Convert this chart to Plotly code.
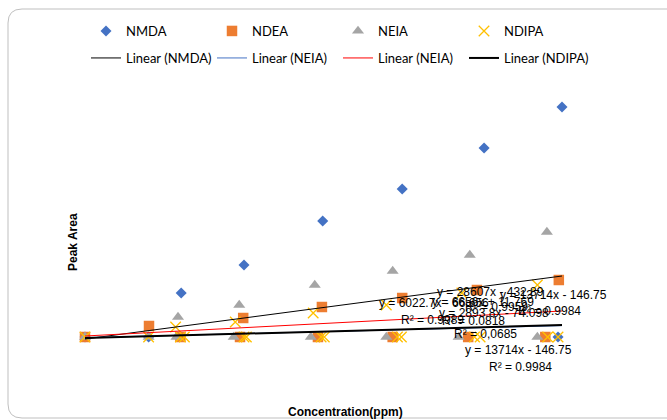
import plotly.graph_objects as go

# ---------------- data ----------------
nmda_x = [0, 0.80, 1.21, 2.00, 2.99, 3.99, 5.02, 6.00, 5.95]
nmda_y = [0, 0, 33000, 54000, 87000, 111000, 141750, 172500, 0]

ndea_x = [0, 0.805, 1.99, 2.98, 3.99, 4.93, 5.96, 1.20, 1.95, 2.93, 3.87, 4.82, 5.79]
ndea_y = [0, 8250, 14250, 22500, 29250, 35250, 42750, 0, 0, 0, 0, 0, 0]

neia_x = [0, 0.80, 1.17, 1.94, 2.89, 3.87, 4.84, 5.81, 1.15, 1.87, 2.84, 3.79, 4.70, 5.69]
neia_y = [0, 0, 15000, 24000, 39000, 49500, 61500, 78750, 0, 0, 0, 0, 0, 0]

ndipa_x = [0, 0.80, 1.14, 1.89, 2.87, 3.79, 4.74, 5.69,
           1.20, 2.00, 2.97, 3.93, 4.90, 5.82, 1.25, 2.03, 3.01, 3.98, 4.97, 5.95]
ndipa_y = [0, 0, 7500, 11250, 18000, 24000, 33000, 39000,
           0, 0, 0, 0, 0, 0, 0, 0, 0, 0, 0, 0]

# trendline end points (x from 0 to 6 ppm)
trend_x = [0, 6.0]
trend_nmda = [-1500, 45750]
trend_neia_blue = [-500, 8500]
trend_neia_red = [750, 19500]
trend_ndipa = [-750, 9000]

series_names = ["NMDA", "NDEA", "NEIA", "NDIPA"]
trend_names = ["Linear (NMDA)", "Linear (NEIA)", "Linear (NEIA)", "Linear (NDIPA)"]

# trendline label texts
eq_labels = [
    "y = 28607x - 432.89", "y = 13714x - 146.75", "y = 6022.7x - 66.656",
    "y = 6656x + 11.769", "R² = 0.9959", "y = 2893.8x - 74.098",
    "R² = 0.9984", "R² = 0.9989", "R² = 0.0818", "R² = 0,0685",
    "y = 13714x - 146.75", "R² = 0.9984",
]

# ---------------- layout geometry ----------------
W, H = 667, 420
ML, MR, MT, MB = 75, 0, 90, 75
PW, PH = W - ML - MR, H - MT - MB


def px(xp):
    return (xp - ML) / PW


def py(yp):
    return (H - MB - yp) / PH


fig = go.Figure()

fig.add_trace(go.Scatter(x=nmda_x, y=nmda_y, mode="markers", name=series_names[0],
                         marker=dict(symbol="diamond", size=8.5, color="#4472C4"),
                         legend="legend"))
fig.add_trace(go.Scatter(x=ndea_x, y=ndea_y, mode="markers", name=series_names[1],
                         marker=dict(symbol="square", size=10.5, color="#ED7D31"),
                         legend="legend"))
fig.add_trace(go.Scatter(x=neia_x, y=neia_y, mode="markers", name=series_names[2],
                         marker=dict(symbol="triangle-up", size=10.5, color="#A5A5A5"),
                         legend="legend"))
fig.add_trace(go.Scatter(x=ndipa_x, y=ndipa_y, mode="markers", name=series_names[3],
                         marker=dict(symbol="x-thin-open", size=10.5, color="#FFC000",
                                     line=dict(width=1.3, color="#FFC000")),
                         legend="legend"))

fig.add_trace(go.Scatter(x=trend_x, y=trend_nmda, mode="lines", name=trend_names[0],
                         line=dict(color="#000000", width=1), legend="legend2"))
fig.add_trace(go.Scatter(x=trend_x, y=trend_neia_blue, mode="lines", name=trend_names[1],
                         line=dict(color="#4472C4", width=1), legend="legend2"))
fig.add_trace(go.Scatter(x=trend_x, y=trend_neia_red, mode="lines", name=trend_names[2],
                         line=dict(color="#FF0000", width=1), legend="legend2"))
fig.add_trace(go.Scatter(x=trend_x, y=trend_ndipa, mode="lines", name=trend_names[3],
                         line=dict(color="#000000", width=2), legend="legend2"))

# label positions (pixel left, pixel center y)
label_pos = [
    (435, 292), (498, 295), (377, 303), (430, 302), (463, 307), (437, 313),
    (516, 311), (399, 320), (440, 321), (452, 334), (463, 350), (487, 367),
]
annotations = []
for txt, (lx, ly) in zip(eq_labels, label_pos):
    annotations.append(dict(text=txt, x=px(lx), y=py(ly), xref="paper", yref="paper",
                            xanchor="left", yanchor="middle", showarrow=False,
                            font=dict(family="Liberation Sans, Arial", size=12, color="#000")))

annotations.append(dict(text="<b>Peak Area</b>", x=px(73), y=py(242), xref="paper",
                        yref="paper", textangle=-90, showarrow=False,
                        xanchor="center", yanchor="middle",
                        font=dict(family="Liberation Sans, Arial", size=12, color="#000")))
annotations.append(dict(text="<b>Concentration(ppm)</b>", x=px(345), y=py(412), xref="paper",
                        yref="paper", showarrow=False, xanchor="center", yanchor="middle",
                        font=dict(family="Liberation Sans, Arial", size=12, color="#000")))

# chart-area rounded border (partially outside the window)
x0, y0, x1, y1, r = 8, 9, 680, 418, 14
path = (f"M {px(x0)} {py(y0 + r)} Q {px(x0)} {py(y0)} {px(x0 + r)} {py(y0)} "
        f"L {px(x1)} {py(y0)} L {px(x1)} {py(y1)} L {px(x0 + r)} {py(y1)} "
        f"Q {px(x0)} {py(y1)} {px(x0)} {py(y1 - r)} Z")

legend_font = dict(family="Lato, Calibri, sans-serif", size=13, color="#000")

fig.update_layout(
    width=W, height=H,
    margin=dict(l=ML, r=MR, t=MT, b=MB),
    paper_bgcolor="white", plot_bgcolor="white",
    xaxis=dict(range=[(ML - 85) / 79.5, (W - MR - 85) / 79.5], visible=False),
    yaxis=dict(range=[(337 - (H - MB)) * 750, (337 - MT) * 750], visible=False),
    annotations=annotations,
    shapes=[dict(type="path", path=path, xref="paper", yref="paper",
                 line=dict(color="#BFBFBF", width=1), layer="below")],
    showlegend=True,
    legend=dict(orientation="h", x=px(86), y=py(31), xanchor="left", yanchor="middle",
                entrywidth=81, entrywidthmode="pixels", font=legend_font,
                bgcolor="rgba(0,0,0,0)", itemclick=False),
    legend2=dict(orientation="h", x=px(86), y=py(58), xanchor="left", yanchor="middle",
                 entrywidth=81, entrywidthmode="pixels", font=legend_font,
                 bgcolor="rgba(0,0,0,0)", itemclick=False),
)

fig.write_html("out.html", config={"displayModeBar": False},
               post_script="document.body.style.margin='0';")
